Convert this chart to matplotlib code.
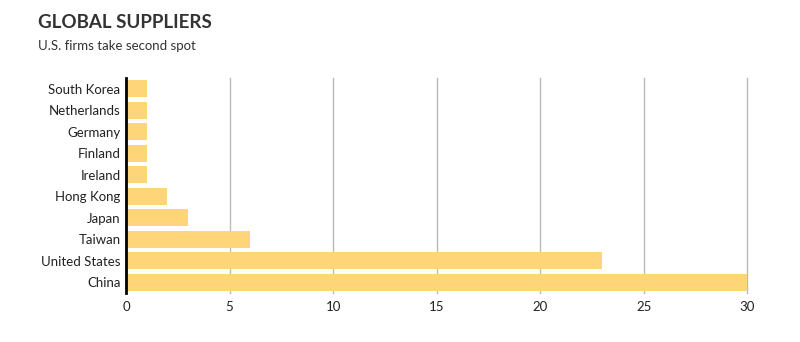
import matplotlib.pyplot as plt

countries = ['China', 'United States', 'Taiwan', 'Japan', 'Hong Kong',
             'Ireland', 'Finland', 'Germany', 'Netherlands', 'South Korea']
suppliers = [30, 23, 6, 3, 2, 1, 1, 1, 1, 1]
x_ticks = [0, 5, 10, 15, 20, 25, 30]

plt.rcParams['font.family'] = ['Lato', 'DejaVu Sans']

fig = plt.figure(figsize=(8, 3.42), dpi=100)
ax = fig.add_axes([0.1575, 0.143, 0.7765, 0.629])

ax.barh(range(len(countries)), suppliers, height=0.8, color='#ffd57a', zorder=2)
ax.set_yticks(range(len(countries)))
ax.set_yticklabels(countries, fontsize=9.5, color='#222222')
ax.set_xticks(x_ticks)
ax.set_xticklabels([str(t) for t in x_ticks], fontsize=9.5, color='#222222')
ax.set_xlim(0, 30)
ax.set_ylim(-0.5, 9.5)
ax.tick_params(length=0, pad=4)
ax.tick_params(axis='x', pad=6)

# gridlines drawn by hand so the one at 30 is not clipped at the edge
for t in x_ticks[1:]:
    ax.axvline(t, color='#bbbbbb', linewidth=1, zorder=1, clip_on=False)
for s in ['top', 'right', 'bottom']:
    ax.spines[s].set_visible(False)
ax.spines['left'].set_linewidth(2)
ax.spines['left'].set_color('black')
ax.spines['left'].set_zorder(3)

fig.text(0.0475, 0.935, 'GLOBAL SUPPLIERS', fontsize=13.5, fontweight='bold',
         color='#333333', va='center')
fig.text(0.0475, 0.865, 'U.S. firms take second spot', fontsize=9.5,
         color='#333333', va='center')

fig.savefig('out.png', dpi=100)
